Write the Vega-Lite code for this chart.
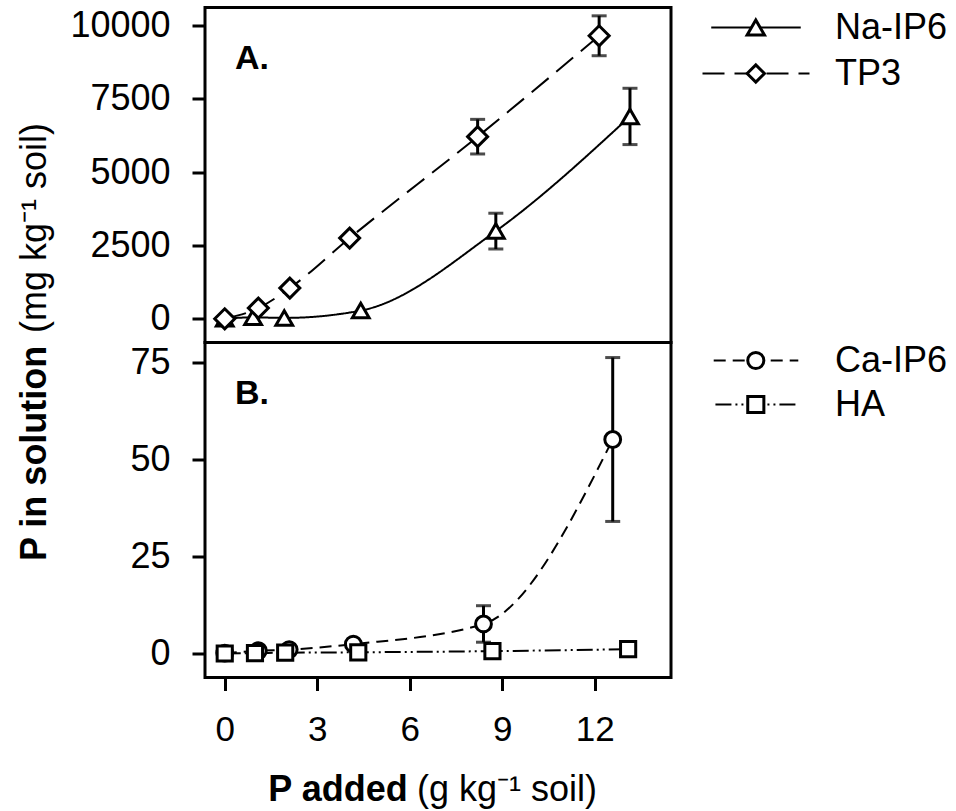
{
  "$schema": "https://vega.github.io/schema/vega-lite/v6.json",
  "background": "white",
  "padding": {"left": 14, "top": 5.5, "right": 5, "bottom": 5},
  "config": {
    "view": {"stroke": "black", "strokeWidth": 3},
    "font": "Liberation Sans",
    "axis": {"grid": false, "domain": false, "tickColor": "black", "tickWidth": 3, "tickSize": 13, "labelFont": "Liberation Sans", "labelFontSize": 35, "labelColor": "black", "titleFont": "Liberation Sans", "titleFontSize": 36, "titleColor": "black", "labelFlush": false, "labelOverlap": false},
    "legend": {"labelFont": "Liberation Sans", "labelFontSize": 36, "labelColor": "black", "padding": 0, "labelLimit": 400}
  },
  "data": {"values": [
    {"panel": "A", "series": "Na-IP6", "x": 0, "y": 0},
    {"panel": "A", "series": "Na-IP6", "x": 0.92, "y": 50},
    {"panel": "A", "series": "Na-IP6", "x": 1.93, "y": 30},
    {"panel": "A", "series": "Na-IP6", "x": 4.41, "y": 280},
    {"panel": "A", "series": "Na-IP6", "x": 8.79, "y": 2990, "err": 610},
    {"panel": "A", "series": "Na-IP6", "x": 13.14, "y": 6900, "err": 960},
    {"panel": "A", "series": "TP3", "x": 0, "y": 0},
    {"panel": "A", "series": "TP3", "x": 1.09, "y": 365},
    {"panel": "A", "series": "TP3", "x": 2.11, "y": 1047},
    {"panel": "A", "series": "TP3", "x": 4.05, "y": 2752},
    {"panel": "A", "series": "TP3", "x": 8.2, "y": 6210, "err": 590},
    {"panel": "A", "series": "TP3", "x": 12.14, "y": 9650, "err": 680},
    {"panel": "B", "series": "Ca-IP6", "x": 0, "y": 0.1},
    {"panel": "B", "series": "Ca-IP6", "x": 1.09, "y": 0.7},
    {"panel": "B", "series": "Ca-IP6", "x": 2.09, "y": 1.0},
    {"panel": "B", "series": "Ca-IP6", "x": 4.17, "y": 2.4},
    {"panel": "B", "series": "Ca-IP6", "x": 8.39, "y": 7.6, "err": 4.7},
    {"panel": "B", "series": "Ca-IP6", "x": 12.58, "y": 55.1, "err": 21.1},
    {"panel": "B", "series": "HA", "x": 0, "y": 0},
    {"panel": "B", "series": "HA", "x": 0.98, "y": 0.1},
    {"panel": "B", "series": "HA", "x": 1.96, "y": 0.2},
    {"panel": "B", "series": "HA", "x": 4.33, "y": 0.3},
    {"panel": "B", "series": "HA", "x": 8.68, "y": 0.6},
    {"panel": "B", "series": "HA", "x": 13.08, "y": 1.1}
  ]},
  "spacing": 0,
  "bounds": "flush",
  "resolve": {"scale": {"shape": "independent", "strokeDash": "independent", "size": "independent"}},
  "vconcat": [
    {
      "width": 466, "height": 335,
      "title": {"text": "A.", "orient": "top", "anchor": "start", "frame": "group", "offset": 0, "dx": 30, "dy": 95.5, "baseline": "alphabetic", "align": "left", "font": "Liberation Sans", "fontSize": 34, "fontWeight": "bold", "color": "black"},
      "transform": [{"filter": "datum.panel === 'A'"}],
      "encoding": {
        "x": {"field": "x", "type": "quantitative", "scale": {"domain": [-0.64, 14.47], "nice": false, "zero": false},
              "axis": {"labels": false, "ticks": false, "domain": false, "title": "P added", "titleFontWeight": "bold", "titleAlign": "left", "titleBaseline": "alphabetic", "titleX": 62.8, "titleY": 458}},
        "y": {"field": "y", "type": "quantitative", "scale": {"domain": [-808, 10614], "nice": false, "zero": false},
              "axis": {"values": [0, 2500, 5000, 7500, 10000], "format": "d", "labelFontSize": 36, "labelPadding": 22, "title": "(mg kg⁻¹ soil)", "titleFontWeight": "normal", "titleAngle": 270, "titleAlign": "left", "titleBaseline": "alphabetic", "titleX": -159.7, "titleY": 325}}
      },
      "layer": [
        {"mark": {"type": "line", "interpolate": "monotone", "color": "black", "strokeWidth": 2},
         "encoding": {"strokeDash": {"field": "series", "type": "nominal",
           "scale": {"domain": ["Na-IP6", "TP3"], "range": [[1, 0], [22, 10]]},
           "legend": {"title": null, "orient": "right", "offset": 64.8, "padding": 2, "symbolType": "M-5.35,0H5.35", "symbolSize": 100, "symbolStrokeWidth": 2, "symbolStrokeColor": "black", "rowPadding": 10, "labelOffset": 61}}}},
        {"transform": [{"filter": "isValid(datum.err)"}],
         "mark": {"type": "errorbar", "ticks": {"size": 15, "thickness": 3, "color": "black"}, "rule": {"strokeWidth": 3, "color": "black"}},
         "encoding": {"yError": {"field": "err"}}},
        {"mark": {"type": "point", "filled": false, "fill": "white", "stroke": "black", "strokeWidth": 3, "opacity": 1},
         "encoding": {
           "shape": {"field": "series", "type": "nominal", "scale": {"domain": ["Na-IP6", "TP3"], "range": ["triangle-up", "diamond"]},
             "legend": {"title": null, "orient": "none", "legendX": 530.8, "legendY": 0, "padding": 2, "symbolSize": 300, "symbolStrokeWidth": 3, "symbolOpacity": 1, "rowPadding": 10, "labelExpr": "' '", "labelOpacity": 0, "zindex": 1}},
           "size": {"field": "series", "type": "nominal", "scale": {"domain": ["Na-IP6", "TP3"], "range": [280, 400]}, "legend": null}
         }}
      ]
    },
    {
      "width": 466, "height": 335,
      "title": {"text": "B.", "orient": "top", "anchor": "start", "frame": "group", "offset": 0, "dx": 30, "dy": 95.5, "baseline": "alphabetic", "align": "left", "font": "Liberation Sans", "fontSize": 34, "fontWeight": "bold", "color": "black"},
      "transform": [{"filter": "datum.panel === 'B'"}],
      "encoding": {
        "x": {"field": "x", "type": "quantitative", "scale": {"domain": [-0.64, 14.47], "nice": false, "zero": false},
              "axis": {"values": [0, 3, 6, 9, 12], "labelPadding": 22, "title": "(g kg⁻¹ soil)", "titleFontWeight": "normal", "titleAlign": "left", "titleBaseline": "alphabetic", "titleX": 211.5, "titleY": 123.3}},
        "y": {"field": "y", "type": "quantitative", "scale": {"domain": [-6.19, 80.08], "nice": false, "zero": false},
              "axis": {"values": [0, 25, 50, 75], "format": "d", "labelFontSize": 36, "labelPadding": 22, "title": "P in solution", "titleFontWeight": "bold", "titleAngle": 270, "titleAlign": "left", "titleBaseline": "alphabetic", "titleX": -159.7, "titleY": 218}}
      },
      "layer": [
        {"mark": {"type": "line", "interpolate": "monotone", "color": "black", "strokeWidth": 2},
         "encoding": {"strokeDash": {"field": "series", "type": "nominal",
           "scale": {"domain": ["Ca-IP6", "HA"], "range": [[12, 7], [16, 4, 2, 4, 2, 4]]},
           "legend": {"title": null, "orient": "right", "offset": 66.8, "symbolType": "M-5.35,0H5.35", "symbolSize": 100, "symbolStrokeWidth": 2, "symbolStrokeColor": "black", "rowPadding": 8, "labelOffset": 61}}}},
        {"transform": [{"filter": "isValid(datum.err)"}],
         "mark": {"type": "errorbar", "ticks": {"size": 15, "thickness": 3, "color": "black"}, "rule": {"strokeWidth": 3, "color": "black"}},
         "encoding": {"yError": {"field": "err"}}},
        {"mark": {"type": "point", "filled": false, "fill": "white", "stroke": "black", "strokeWidth": 3, "opacity": 1},
         "encoding": {
           "shape": {"field": "series", "type": "nominal", "scale": {"domain": ["Ca-IP6", "HA"], "range": ["circle", "square"]},
             "legend": {"title": null, "orient": "none", "legendX": 532.8, "legendY": 0, "symbolSize": 260, "symbolStrokeWidth": 3, "symbolOpacity": 1, "rowPadding": 8, "labelExpr": "' '", "labelOpacity": 0, "zindex": 1}},
           "size": {"field": "series", "type": "nominal", "scale": {"domain": ["Ca-IP6", "HA"], "range": [250, 230]}, "legend": null}
         }}
      ]
    }
  ]
}
